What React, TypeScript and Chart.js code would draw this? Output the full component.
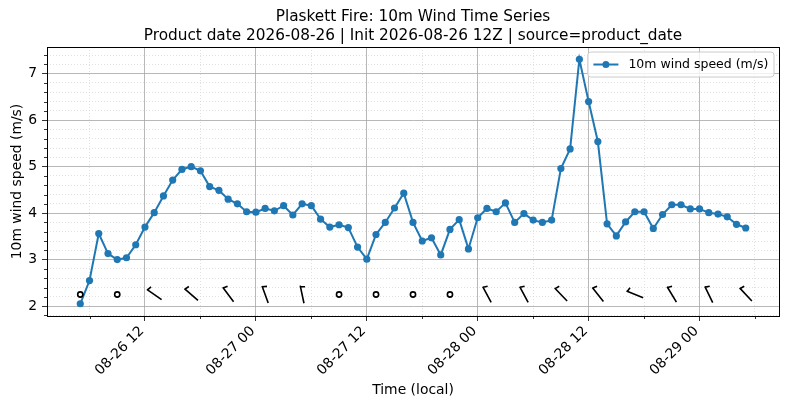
import { useEffect, useRef } from "react";
import { Chart, registerables } from "chart.js";
import type { ChartConfiguration, Plugin, Scale } from "chart.js";

Chart.register(...registerables);

const TITLE = [
  "Plaskett Fire: 10m Wind Time Series",
  "Product date 2026-08-26 | Init 2026-08-26 12Z | source=product_date",
];
const SERIES_LABEL = "10m wind speed (m/s)";
const BLUE = "#1f77b4";

// hours since 2026-08-26 00:00 (local)
const TIME_HOURS = [
  5, 6, 7, 8, 9, 10, 11, 12, 13, 14, 15, 16, 17, 18, 19, 20, 21, 22, 23,
  24, 25, 26, 27, 28, 29, 30, 31, 32, 33, 34, 35, 36, 37, 38, 39, 40, 41, 42, 43, 44, 45, 46, 47,
  48, 49, 50, 51, 52, 53, 54, 55, 56, 57, 58, 59, 60, 61, 62, 63, 64, 65, 66, 67, 68, 69, 70, 71,
  72, 73, 74, 75, 76, 77,
];
const WIND_SPEED = [
  2.05, 2.55, 3.56, 3.13, 3.0, 3.04, 3.32, 3.7, 4.01, 4.37, 4.71, 4.94, 5.0, 4.91, 4.57, 4.49, 4.3, 4.2, 4.03,
  4.02, 4.1, 4.05, 4.16, 3.96, 4.2, 4.16, 3.87, 3.7, 3.75, 3.69, 3.27, 3.01, 3.54, 3.8, 4.11, 4.43, 3.8, 3.4, 3.47, 3.1, 3.65, 3.86, 3.23,
  3.9, 4.1, 4.03, 4.22, 3.8, 3.99, 3.85, 3.8, 3.85, 4.96, 5.38, 7.31, 6.4, 5.54, 3.77, 3.51, 3.81, 4.03, 4.03, 3.67, 3.97, 4.18, 4.18, 4.09,
  4.09, 4.01, 3.98, 3.92, 3.76, 3.68,
];

const X_TICK_HOURS = [12, 24, 36, 48, 60, 72];
const X_TICK_LABELS = ["08-26 12", "08-27 00", "08-27 12", "08-28 00", "08-28 12", "08-29 00"];
const X_MINOR_HOURS = [6, 18, 30, 42, 54, 66, 78];
const Y_TICKS = [2, 3, 4, 5, 6, 7];

// wind barbs every 4 h, direction the wind comes from (deg), null = calm circle
const BARB_HOURS = [5, 9, 13, 17, 21, 25, 29, 33, 37, 41, 45, 49, 53, 57, 61, 65, 69, 73, 77];
const BARB_DIR: (number | null)[] = [
  null, null, 305, 311, 323, 340, 348, null, null, null, null, 332, 332, 316, 322, 292, 329, 334, 317,
];
const BARB_LEVEL = 2.25;

// matplotlib style autoscale, 5% margins
const xSpan = TIME_HOURS[TIME_HOURS.length - 1] - TIME_HOURS[0];
const X_MIN = TIME_HOURS[0] - xSpan * 0.05;
const X_MAX = TIME_HOURS[TIME_HOURS.length - 1] + xSpan * 0.05;
const yLo = Math.min(...WIND_SPEED);
const yHi = Math.max(...WIND_SPEED);
const Y_MIN = yLo - (yHi - yLo) * 0.05;
const Y_MAX = yHi + (yHi - yLo) * 0.05;

const Y_MINOR: number[] = [];
for (let v = 16; v <= 78; v += 2) if (v % 10 !== 0) Y_MINOR.push(v / 10);

const FONT = "DejaVu Sans";
const MAJOR_GRID = "#a6a6a6";
const MINOR_GRID = "#d4d4d4";

const setTicks = (values: number[]) => (scale: Scale) => {
  scale.ticks = values.filter((v) => v >= scale.min && v <= scale.max).map((v) => ({ value: v }));
};

const overlay: Plugin<"line"> = {
  id: "overlay",
  afterDatasetsDraw(chart) {
    const { ctx, chartArea: a } = chart;
    const xs = chart.scales.x;
    const ys = chart.scales.y;
    ctx.save();

    // wind barbs
    ctx.strokeStyle = "#000";
    ctx.lineWidth = 1.6;
    const len = 18;
    BARB_HOURS.forEach((h, i) => {
      const px = xs.getPixelForValue(h);
      const py = ys.getPixelForValue(BARB_LEVEL);
      const dir = BARB_DIR[i];
      ctx.beginPath();
      if (dir === null) {
        ctx.arc(px, py, 2.6, 0, Math.PI * 2);
        ctx.stroke();
        return;
      }
      const r = (dir * Math.PI) / 180;
      const ux = Math.sin(r);
      const uy = -Math.cos(r);
      const ex = px + (ux * len) / 2;
      const ey = py + (uy * len) / 2;
      ctx.moveTo(px - (ux * len) / 2, py - (uy * len) / 2);
      ctx.lineTo(ex, ey);
      const bx = ex - ux * 0.8;
      const by = ey - uy * 0.8;
      ctx.moveTo(bx, by);
      ctx.lineTo(bx - uy * 4.5 - ux * 1.2, by + ux * 4.5 - uy * 1.2);
      ctx.stroke();
    });

    // minor tick marks
    ctx.lineWidth = 0.8;
    ctx.beginPath();
    X_MINOR_HOURS.forEach((h) => {
      if (h < X_MIN || h > X_MAX) return;
      const px = Math.round(xs.getPixelForValue(h)) + 0.5;
      ctx.moveTo(px, a.bottom);
      ctx.lineTo(px, a.bottom + 3);
    });
    Y_MINOR.forEach((v) => {
      if (v < Y_MIN || v > Y_MAX) return;
      const py = Math.round(ys.getPixelForValue(v)) + 0.5;
      ctx.moveTo(a.left, py);
      ctx.lineTo(a.left - 3, py);
    });
    ctx.stroke();

    // axes frame
    ctx.lineWidth = 1;
    ctx.strokeRect(Math.round(a.left) + 0.5, Math.round(a.top) + 0.5, Math.round(a.width), Math.round(a.height));

    // legend (upper right, inside axes)
    const fs = 12.5;
    ctx.font = `${fs}px "${FONT}"`;
    const tw = ctx.measureText(SERIES_LABEL).width;
    const pad = 0.45 * fs;
    const handle = 2 * fs;
    const gap = 0.8 * fs;
    const w = pad * 2 + handle + gap + tw;
    const hgt = 25;
    const left = a.right - 5 - w;
    const top = a.top + 5;
    ctx.beginPath();
    ctx.roundRect(left, top, w, hgt, 3);
    ctx.fillStyle = "rgba(255,255,255,0.8)";
    ctx.fill();
    ctx.strokeStyle = "#cccccc";
    ctx.stroke();
    const ds = chart.data.datasets[0];
    const col = (ds.borderColor as string) || BLUE;
    const cy = top + hgt / 2;
    ctx.strokeStyle = col;
    ctx.lineWidth = 2;
    ctx.beginPath();
    ctx.moveTo(left + pad, cy);
    ctx.lineTo(left + pad + handle, cy);
    ctx.stroke();
    ctx.fillStyle = col;
    ctx.beginPath();
    ctx.arc(left + pad + handle / 2, cy, 3.5, 0, Math.PI * 2);
    ctx.fill();
    ctx.fillStyle = "#000";
    ctx.textAlign = "left";
    ctx.textBaseline = "middle";
    ctx.fillText(SERIES_LABEL, left + pad + handle + gap, cy + 0.5);

    ctx.restore();
  },
};

export default function App() {
  const canvasRef = useRef<HTMLCanvasElement | null>(null);

  useEffect(() => {
    document.body.style.margin = "0";
    const ctx = canvasRef.current!.getContext("2d")!;
    Chart.defaults.font.family = FONT;
    Chart.defaults.color = "#000";

    const tickFont = { family: FONT, size: 13.9 };

    const config: ChartConfiguration<"line", { x: number; y: number }[]> = {
      type: "line",
      data: {
        datasets: [
          {
            label: SERIES_LABEL,
            data: TIME_HOURS.map((h, i) => ({ x: h, y: WIND_SPEED[i] })),
            borderColor: BLUE,
            backgroundColor: BLUE,
            borderWidth: 2,
            pointRadius: 3.6,
            pointBorderWidth: 0,
            pointBackgroundColor: BLUE,
            tension: 0,
            xAxisID: "x",
            yAxisID: "y",
          },
        ],
      },
      options: {
        animation: false,
        responsive: true,
        maintainAspectRatio: false,
        layout: { padding: { left: 0, right: 11, top: 0, bottom: 0 } },
        plugins: {
          legend: { display: false },
          tooltip: { enabled: false },
          title: {
            display: true,
            text: TITLE,
            fullSize: false,
            color: "#000",
            font: { family: FONT, size: 15.3, weight: "normal", lineHeight: 1.2 },
            padding: { top: 8, bottom: 2.3 },
          },
        },
        scales: {
          xMinor: {
            type: "linear",
            position: "bottom",
            min: X_MIN,
            max: X_MAX,
            afterBuildTicks: setTicks(X_MINOR_HOURS),
            grid: { color: MINOR_GRID, lineWidth: 0.7, drawTicks: false },
            border: { display: false, dash: [1, 2] },
            ticks: { display: false },
          },
          yMinor: {
            type: "linear",
            position: "left",
            min: Y_MIN,
            max: Y_MAX,
            afterBuildTicks: setTicks(Y_MINOR),
            grid: { color: MINOR_GRID, lineWidth: 0.7, drawTicks: false },
            border: { display: false, dash: [1, 2] },
            ticks: { display: false },
          },
          x: {
            type: "linear",
            position: "bottom",
            min: X_MIN,
            max: X_MAX,
            afterBuildTicks: setTicks(X_TICK_HOURS),
            afterFit: (s) => {
              s.height = 93;
            },
            grid: { color: MAJOR_GRID, lineWidth: 0.8, tickLength: 5, tickColor: "#000", tickWidth: 0.8 },
            border: { display: true, color: "#000", width: 1 },
            ticks: {
              font: tickFont,
              color: "#000",
              autoSkip: false,
              minRotation: 45,
              maxRotation: 45,
              padding: 2,
              labelOffset: -3,
              callback: (v) => X_TICK_LABELS[X_TICK_HOURS.indexOf(Number(v))] ?? "",
            },
            title: {
              display: true,
              text: "Time (local)",
              color: "#000",
              font: tickFont,
              padding: { top: 10.5, bottom: 10.5 },
            },
          },
          y: {
            type: "linear",
            position: "left",
            min: Y_MIN,
            max: Y_MAX,
            afterBuildTicks: setTicks(Y_TICKS),
            afterFit: (s) => {
              s.width = 47;
            },
            grid: { color: MAJOR_GRID, lineWidth: 0.8, tickLength: 5, tickColor: "#000", tickWidth: 0.8 },
            border: { display: true, color: "#000", width: 1 },
            ticks: { font: tickFont, color: "#000", padding: 5, callback: (v) => String(v) },
            title: {
              display: true,
              text: SERIES_LABEL,
              color: "#000",
              font: tickFont,
              padding: { top: 8.6, bottom: 0 },
            },
          },
        },
      },
      plugins: [overlay],
    };

    const chart = new Chart(ctx, config);
    return () => chart.destroy();
  }, []);

  return (
    <div style={{ width: 790, height: 409, position: "relative" }}>
      <canvas ref={canvasRef} />
    </div>
  );
}
